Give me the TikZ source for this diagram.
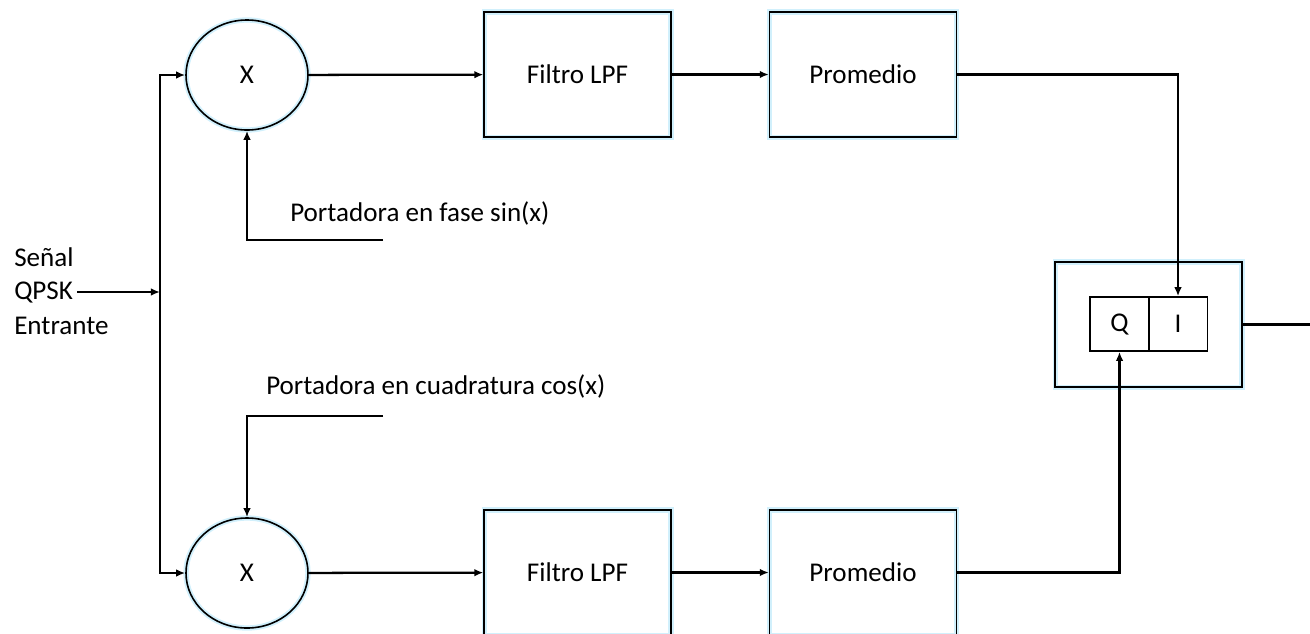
\documentclass[tikz,border=0pt]{standalone}
\usepackage{fontspec}
\setmainfont{Carlito}
\usetikzlibrary{positioning,arrows.meta,shapes.geometric}

\begin{document}
\begin{tikzpicture}[x=0.75pt,y=-0.75pt,font=\fontsize{20.3}{24}\selectfont,
  >={Latex[length=2.4mm,width=2mm]},node distance=1mm and 4mm,
  wire/.style={line width=1.7pt},
  blk/.style={draw,line width=1.2pt,preaction={draw=cyan!18,line width=4pt},minimum width=140pt,minimum height=94pt,inner sep=0pt},
  mult/.style={ellipse,draw,line width=1.2pt,preaction={draw=cyan!18,line width=4pt},minimum width=91.5pt,minimum height=82.5pt,inner sep=0pt},
  sq/.style={draw,line width=1.2pt,minimum width=44pt,minimum height=40.5pt,inner sep=0pt},
  lbl/.style={anchor=west,inner sep=0pt}]
  \useasboundingbox (0,0) rectangle (1310,633);
  \clip (0,0) rectangle (1310,633);
  % upper branch
  \node[mult] (m1) at (247,75) {X};
  \node[blk] (f1) at (577.5,74.5) {Filtro LPF};
  \node[blk] (p1) at (863,74.5) {Promedio};
  % lower branch
  \node[mult] (m2) at (247,573) {X};
  \node[blk] (f2) at (577.5,572.5) {Filtro LPF};
  \node[blk] (p2) at (863,572.5) {Promedio};
  % decision block
  \node[blk] (out) at (1148.5,324.5) {};
  \node[sq] (q) at (1119.5,324) {Q};
  \node[sq] (i) at (1178,324) {I};
  % input
  \node[lbl] (qpsk) at (14,292) {QPSK};
  \node[lbl,above=3.8mm of qpsk.north west,anchor=south west] (sen) {Señal};
  \node[lbl,below=3.8mm of qpsk.south west,anchor=north west] (ent) {Entrante};
  \coordinate (split) at (160,292);
  % carriers
  \node[lbl] (c1) at (290,213) {Portadora en fase sin(x)};
  \coordinate (c1e) at (383,240);
  \node[lbl] (c2) at (266,386) {Portadora en cuadratura cos(x)};
  \coordinate (c2e) at (383,416);
  \coordinate (fin) at (1310,324.5);
  \draw[wire,->] (qpsk.east)++(3pt,0) -- (split);
  \draw[wire,->] (split) |- (m1.west);
  \draw[wire,->] (split) |- (m2.west);
  \draw[wire,->] (c1e) -| (m1.south);
  \draw[wire,->] (c2e) -| (m2.north);
  \draw[wire,->] (m1)--(f1); \draw[wire,->] (f1)--(p1);
  \draw[wire,->] (m2)--(f2); \draw[wire,->] (f2)--(p2);
  \draw[wire,->] (p1.east) -| (i.north);
  \draw[wire,->] (p2.east) -| (q.south);
  \draw[wire] (out.east) -- (fin);
\end{tikzpicture}
\end{document}
